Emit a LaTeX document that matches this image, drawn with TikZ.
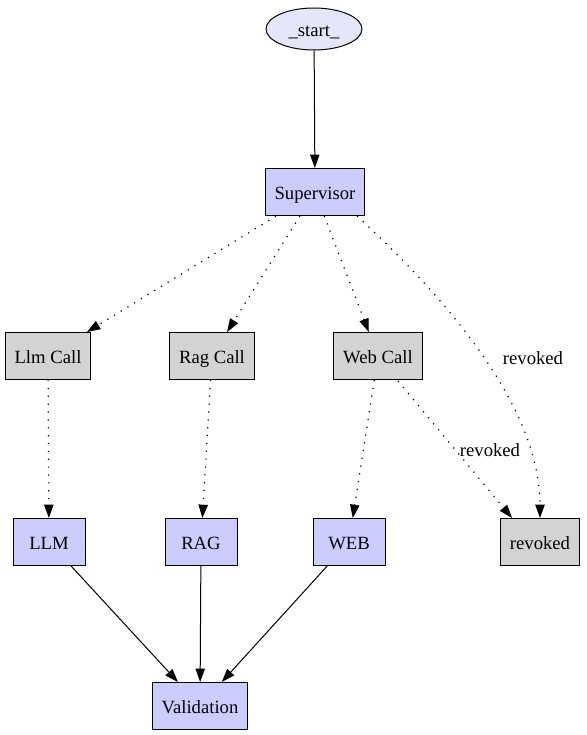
\documentclass[tikz,border=0pt]{standalone}
\usepackage{fontspec}
\setmainfont{Liberation Serif}
\usepackage{tikz}
\usetikzlibrary{shapes.geometric, arrows.meta}
\definecolor{cLavender}{HTML}{E6E6FA}
\definecolor{cNode}{HTML}{CCCCFF}
\definecolor{cCall}{HTML}{D3D3D3}
\tikzset{
	startnode/.style={ellipse, draw=black, line width=0.75pt, fill=cLavender, minimum width=72pt, minimum height=31.5pt, inner sep=0pt, text height=13pt, text depth=2pt},
	agent/.style    ={rectangle, draw=black, line width=0.75pt, fill=cNode, minimum width=54pt, minimum height=35.25pt, inner xsep=7pt, text height=13pt, text depth=2pt},
	callbox/.style  ={rectangle, draw=black, line width=0.75pt, fill=cCall, minimum width=54pt, minimum height=35.25pt, inner xsep=7pt, text height=13pt, text depth=2pt},
	solidflow/.style={-{Triangle[length=10pt, width=7pt]}, line width=0.75pt},
	dotflow/.style  ={-{Triangle[length=10pt, width=7pt]}, line width=0.9pt, dash pattern=on 0.9pt off 5pt},
}
\begin{document}
\begin{tikzpicture}[x=0.75pt, y=-0.75pt, font=\rmfamily\fontsize{14}{16}\selectfont]
	\useasboundingbox (0,0) rectangle (586,735);
	\node[startnode] (start) at (314,29) {\_start\_};
	\node[agent] (sup) at (315,192) {Supervisor};
	\node[callbox] (llmcall) at (48,356) {Llm Call};
	\node[callbox] (ragcall) at (212,356) {Rag Call};
	\node[callbox] (webcall) at (378,356) {Web Call};
	\node[agent] (llm) at (49,542) {LLM};
	\node[agent] (rag) at (201,542) {RAG};
	\node[agent] (web) at (349,542) {WEB};
	\node[callbox] (revoked) at (540,542) {revoked};
	\node[agent] (valid) at (200,706) {Validation};
	% edge end points
	\coordinate (supout) at (357,216);
	\coordinate (webout) at (398,381);
	\coordinate (revin) at (512,518);
	\draw[solidflow] (start) -- (sup);
	\draw[dotflow] (sup) -- (llmcall);
	\draw[dotflow] (sup) -- (ragcall);
	\draw[dotflow] (sup) -- (webcall);
	\draw[dotflow] (supout) .. controls (470,320) and (540,420) .. (revoked.north);
	\node (revlabA) at (533,358) {revoked};
	\draw[dotflow] (llmcall) -- (llm);
	\draw[dotflow] (ragcall) -- (rag);
	\draw[dotflow] (webcall) -- (web);
	\draw[dotflow] (webout) -- (revin);
	\node (revlabB) at (490,450) {revoked};
	\draw[solidflow] (llm) -- (valid);
	\draw[solidflow] (rag) -- (valid);
	\draw[solidflow] (web) -- (valid);
\end{tikzpicture}
\end{document}
